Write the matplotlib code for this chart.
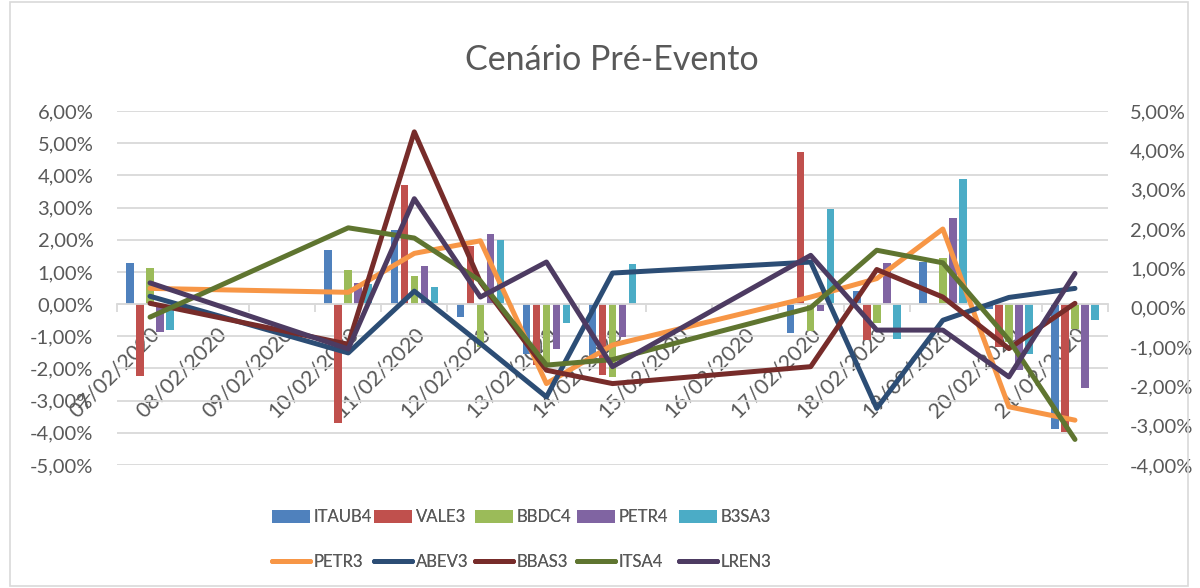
import numpy as np
import matplotlib
matplotlib.use('Agg')
import matplotlib.pyplot as plt
from matplotlib.ticker import FuncFormatter, FixedLocator
from matplotlib.patches import Rectangle

plt.rcParams['font.family'] = ['Lato', 'DejaVu Sans']

# eixo de datas (todos os dias, inclusive fim de semana)
dias = ['07/02/2020', '08/02/2020', '09/02/2020', '10/02/2020', '11/02/2020',
        '12/02/2020', '13/02/2020', '14/02/2020', '15/02/2020', '16/02/2020',
        '17/02/2020', '18/02/2020', '19/02/2020', '20/02/2020', '21/02/2020']
pregoes = ['07/02/2020', '10/02/2020', '11/02/2020', '12/02/2020', '13/02/2020',
           '14/02/2020', '17/02/2020', '18/02/2020', '19/02/2020', '20/02/2020',
           '21/02/2020']

# barras - eixo da esquerda (%)
ITAUB4 = [1.28, 1.68, 2.30, -0.39, -1.55, -1.70, -0.91, 0.40, 1.31, -0.15, -3.89]
VALE3 = [-2.24, -3.68, 3.70, 1.80, -1.90, -2.20, 4.73, -1.12, 0.02, -1.32, -3.98]
BBDC4 = [1.11, 1.06, 0.87, -1.34, -1.84, -2.26, -0.83, -0.58, 1.42, -1.17, -0.78]
PETR4 = [-0.86, 0.67, 1.19, 2.19, -1.38, -1.03, -0.21, 1.29, 2.68, -2.05, -2.61]
B3SA3 = [-0.81, 0.62, 0.54, 1.99, -0.60, 1.24, 2.95, -1.09, 3.90, -1.55, -0.50]

# linhas - eixo da direita (%)
PETR3 = [0.49, 0.39, 1.38, 1.70, -1.93, -0.95, 0.27, 0.74, 2.00, -2.52, -2.86]
ABEV3 = [0.29, -1.15, 0.42, -0.91, -2.27, 0.88, 1.16, -2.56, -0.32, 0.26, 0.49]
BBAS3 = [0.11, -0.93, 4.47, 0.65, -1.59, -1.93, -1.50, 0.97, 0.27, -1.04, 0.11]
ITSA4 = [-0.24, 2.03, 1.77, 0.68, -1.46, -1.32, 0.00, 1.46, 1.14, -0.82, -3.35]
LREN3 = [0.63, -1.05, 2.77, 0.27, 1.16, -1.50, 1.33, -0.57, -0.57, -1.76, 0.87]

barras = [('ITAUB4', ITAUB4, '#4F81BD'), ('VALE3', VALE3, '#C0504D'),
          ('BBDC4', BBDC4, '#9BBB59'), ('PETR4', PETR4, '#8064A2'),
          ('B3SA3', B3SA3, '#4BACC6')]
linhas = [('PETR3', PETR3, '#F79646'), ('ABEV3', ABEV3, '#2C4D75'),
          ('BBAS3', BBAS3, '#772C2A'), ('ITSA4', ITSA4, '#5F7530'),
          ('LREN3', LREN3, '#4D3B62')]

cinza = '#595959'
grade = '#D9D9D9'

x = np.array([dias.index(d) for d in pregoes])

fig = plt.figure(figsize=(12, 5.88), dpi=100)
ax = fig.add_axes([117 / 1200, 1 - 465 / 588, (1108 - 117) / 1200, (465 - 111) / 588])
ax2 = ax.twinx()

passo = 0.1515
larg = 0.114
hb = []
for i, (nome, vals, cor) in enumerate(barras):
    b = ax.bar(x + (i - 2) * passo, vals, width=larg, color=cor, label=nome, zorder=2)
    hb.append(b)

hl = []
for nome, vals, cor in linhas:
    l, = ax2.plot(x, vals, color=cor, lw=3.6, label=nome,
                  solid_capstyle='round', solid_joinstyle='round')
    hl.append(l)

fmt = FuncFormatter(lambda v, p: f'{v:.2f}%'.replace('.', ','))

ax.set_xlim(-0.5, len(dias) - 0.5)
ax.set_ylim(-5, 6)
ax.set_yticks(np.arange(-5, 7, 1))
ax.yaxis.set_major_formatter(fmt)
ax.grid(axis='y', color=grade, lw=1.3, zorder=0)
ax.set_axisbelow(True)

ax2.set_ylim(-4, 5)
ax2.set_yticks(np.arange(-4, 6, 1))
ax2.yaxis.set_major_formatter(fmt)

for a in (ax, ax2):
    for s in ('top', 'left', 'right'):
        a.spines[s].set_visible(False)
ax2.spines['bottom'].set_visible(False)
ax.spines['bottom'].set_position(('data', 0))
ax.spines['bottom'].set_color(grade)
ax.spines['bottom'].set_linewidth(1.3)

ax.set_xticks(range(len(dias)))
ax.set_xticklabels(dias, rotation=45, ha='right', rotation_mode='anchor')
ax.xaxis.set_minor_locator(FixedLocator(np.arange(-0.5, len(dias), 1)))
ax.tick_params(axis='x', which='major', length=0, pad=14, labelsize=15.5, labelcolor=cinza)
ax.tick_params(axis='x', which='minor', length=6, color=grade, width=1.3)
ax.tick_params(axis='y', length=0, pad=17, labelsize=14.5, labelcolor=cinza)
ax2.tick_params(axis='y', length=0, pad=16, labelsize=14.5, labelcolor=cinza)

fig.suptitle('Cenário Pré-Evento', x=0.51, y=0.925, fontsize=24.5, color=cinza)

# legenda: uma entrada por coluna, como no Excel
col_x = [272, 374, 475, 577, 679]
for handles, y_px in ((hb, 517), (hl, 562)):
    for h, x0 in zip(handles, col_x):
        leg = fig.legend(handles=[h], loc='center left',
                         bbox_to_anchor=(x0 / 1200, 1 - y_px / 588),
                         frameon=False, fontsize=12, handlelength=2.3, handleheight=0.85,
                         handletextpad=0.2, borderpad=0, borderaxespad=0,
                         labelcolor=cinza)
        fig.add_artist(leg)

fig.add_artist(Rectangle((10 / 1200, 2 / 588), 1178 / 1200, 584 / 588, transform=fig.transFigure,
                         fill=False, edgecolor=grade, lw=1.2))

fig.savefig('out.png', dpi=100)
